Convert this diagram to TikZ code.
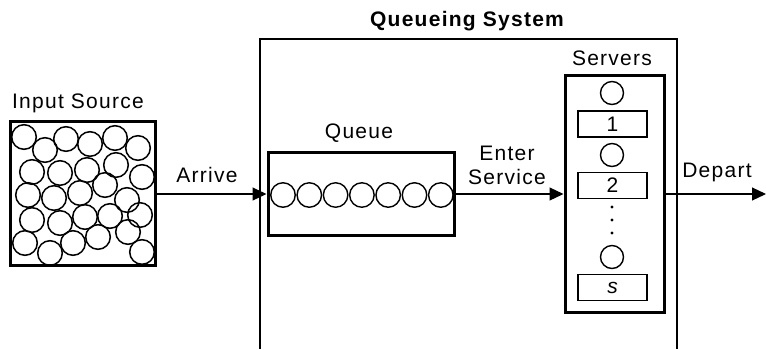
\documentclass[tikz,border=0pt]{standalone}
\usepackage{fontspec}
\setmainfont{Liberation Sans}[LetterSpace=6]
\usetikzlibrary{arrows.meta}
\begin{document}
\begin{tikzpicture}[x=1pt,y=-1pt,
  lbl/.style={font=\fontsize{21}{22}\selectfont, inner sep=0pt},
  bigbox/.style={draw, line width=3pt, inner sep=0pt},
  smallbox/.style={draw, line width=1.3pt, inner sep=0pt, minimum width=69pt, minimum height=26pt, font=\fontsize{21}{22}\selectfont},
  ball/.style={draw, circle, line width=1.4pt, minimum size=23pt, inner sep=0pt},
  flow/.style={line width=1.1pt, -{Triangle[length=14pt,width=13pt]}}
]
\useasboundingbox (0,0) rectangle (766,349);
% Queueing system frame
\draw[line width=1.2pt] (260,349) |- (677,39) -- (677,349);
\node[lbl, font=\fontsize{21}{22}\selectfont\bfseries] (qs) at (467,21) {Queueing System};
% Input source
\node[bigbox, minimum width=145pt, minimum height=144pt] (src) at (82.5,193) {};
\node[lbl] (srcl) at (78,103) {Input Source};
\begin{scope}[line width=1.5pt]
\foreach \p in {(24,137),(45,150),(66,139),(90,144),(115,138),(138,148),
                (32,172),(60,173),(87,170),(116,165),(142,177),
                (28,195),(54,198),(80,193),(105,185),(127,200),
                (32,220),(60,223),(85,217),(110,216),(140,215),(128,232),
                (25,243),(50,253),(73,243),(98,237),(142,252)}
  \draw \p circle (12.3);
\end{scope}
% Queue
\node[bigbox, minimum width=186pt, minimum height=83pt] (queue) at (361,193.5) {};
\node[lbl] (queuel) at (359,133) {Queue};
\foreach \i in {0,...,6}
  \node[ball, minimum size=24.5pt] (q\i) at (283+26.3*\i,195) {};
% Servers
\node[bigbox, minimum width=99pt, minimum height=237pt] (servers) at (614.5,193.5) {};
\node[lbl] (serversl) at (612,58) {Servers};
\node[ball] (c1) at (612,93) {};
\node[smallbox] (b1) at (612.5,124) {1};
\node[ball] (c2) at (612,155) {};
\node[smallbox] (b2) at (612.5,185.5) {2};
\foreach \y in {207,220,233}
  \fill (612,\y) circle (1.6);
\node[ball] (c3) at (612,257) {};
\node[smallbox] (bs) at (612.5,287.5) {\itshape s};
% Flows
\coordinate (out) at (766,194);
\draw[flow] (src.east |- 0,194) -- (queue.west |- 0,194);
\draw[flow] (queue.east |- 0,194) -- (servers.west |- 0,194);
\draw[flow] (servers.east |- 0,194) -- (out);
\node[lbl] (arrive) at (207,175) {Arrive};
\node[lbl, align=center, font=\fontsize{21}{24}\selectfont] (enter) at (507,165) {Enter\\Service};
\node[lbl] (depart) at (717,172) {Depart};
\end{tikzpicture}
\end{document}
